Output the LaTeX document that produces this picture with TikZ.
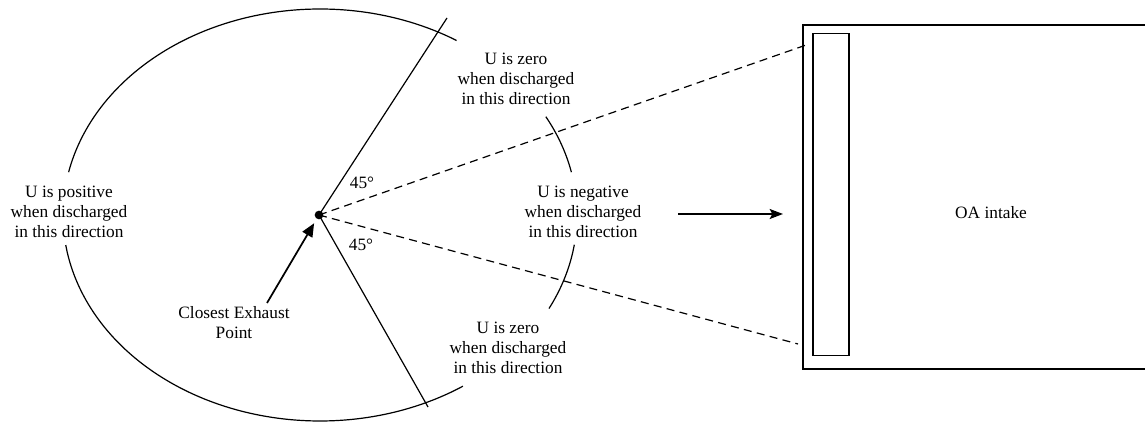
\documentclass[tikz,border=0pt]{standalone}
\usepackage{fontspec}
\setmainfont{Liberation Serif}
\usetikzlibrary{arrows.meta}
\begin{document}
\begin{tikzpicture}[x=0.75pt,y=-0.75pt, line width=0.9pt,
  lbl/.style={align=center, font=\fontsize{13}{15}\selectfont, inner sep=0pt},
  dashline/.style={dash pattern=on 6pt off 4pt},
  ellarc/.style={line width=0.9pt},
  boxline/.style={line width=1pt},
  arrowline/.style={line width=1.3pt},
  dotnode/.style={circle, fill=black, draw=none, minimum size=6.5pt, inner sep=0pt}]
\useasboundingbox (0,0) rectangle (1145,423);

% ellipse arcs (centred on the exhaust point)
\draw[ellarc] plot[domain=-57.9:-168, samples=90, smooth] ({320+257*cos(\x)},{215+206*sin(\x)});
\draw[ellarc] plot[domain=171.6:56.2, samples=90, smooth] ({320+257*cos(\x)},{215+206*sin(\x)});
\draw[ellarc] plot[domain=-28.5:-12, samples=20, smooth] ({320+257*cos(\x)},{215+206*sin(\x)});
\draw[ellarc] plot[domain=8.3:27, samples=20, smooth] ({320+257*cos(\x)},{215+206*sin(\x)});

% exhaust point
\node[dotnode] (ep) at (319,215) {};

% free ends
\coordinate (up) at (447,18);
\coordinate (lo) at (428,407);
\coordinate (du) at (809,44);
\coordinate (dl) at (798,344);
\coordinate (as) at (267,303);
\coordinate (ra) at (678,214);
\coordinate (rb) at (783,214);

\draw (ep.center) -- (up);
\draw (ep.center) -- (lo);
\draw[dashline] (ep.center) -- (du);
\draw[dashline] (ep.center) -- (dl);

% arrows
\draw[arrowline, -{Triangle[length=10pt,width=8.5pt]}, shorten >=3.5pt] (as) -- (ep);
\draw[arrowline, -{Stealth[length=10pt,width=7.5pt,inset=2pt]}] (ra) -- (rb);

% intake
\draw[boxline] (1146,25) -- (803,25) -- (803,369) -- (1146,369);
\node[draw, boxline, minimum width=27pt, minimum height=241.5pt, inner sep=0pt] (grille) at (831,194.5) {};
\node[lbl] (oa) at (991,213) {OA intake};

% labels
\node[lbl] (pos) at (69,212) {U is positive\\when discharged\\in this direction};
\node[lbl] (zu) at (516,79) {U is zero\\when discharged\\in this direction};
\node[lbl] (neg) at (583,212) {U is negative\\when discharged\\in this direction};
\node[lbl] (zl) at (508,348) {U is zero\\when discharged\\in this direction};
\node[lbl] (cep) at (234,323) {Closest Exhaust\\Point};
\node[lbl] (a1) at (362,183) {45°};
\node[lbl] (a2) at (361,245) {45°};
\end{tikzpicture}
\end{document}
